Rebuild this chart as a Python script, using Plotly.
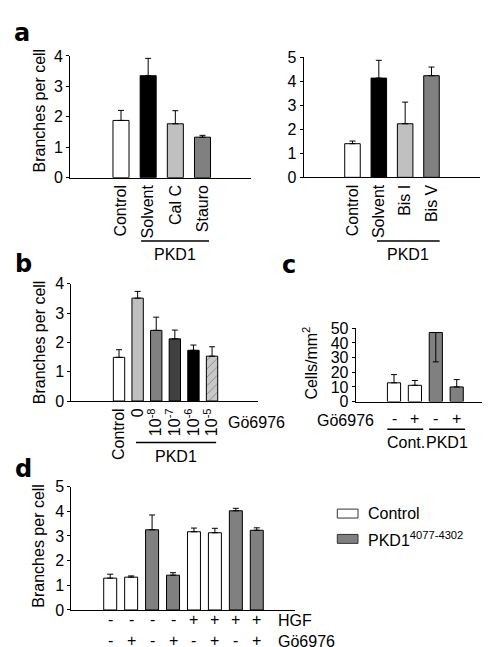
import plotly.graph_objects as go

W, H = 490, 647
FONT = "Liberation Sans, Arial, sans-serif"

# ---------------- data ----------------
a_left_labels = ["Control", "Solvent", "Cal C", "Stauro"]
a_left_values = [1.88, 3.35, 1.77, 1.33]
a_left_err = [0.33, 0.57, 0.43, 0.06]
a_left_colors = ["#ffffff", "#000000", "#c0c0c0", "#808080"]

a_right_labels = ["Control", "Solvent", "Bis I", "Bis V"]
a_right_values = [1.40, 4.13, 2.23, 4.23]
a_right_err = [0.11, 0.74, 0.90, 0.36]
a_right_colors = ["#ffffff", "#000000", "#c0c0c0", "#808080"]

b_labels = ["Control", "0", "10<sup>-8</sup>", "10<sup>-7</sup>", "10<sup>-6</sup>", "10<sup>-5</sup>"]
b_values = [1.49, 3.51, 2.41, 2.12, 1.73, 1.53]
b_err = [0.26, 0.23, 0.45, 0.30, 0.18, 0.32]
b_colors = ["#ffffff", "#c0c0c0", "#808080", "#404040", "#000000", "#c8c8c8"]
b_patterns = ["", "", "", "", "", "/"]

c_signs = ["-", "+", "-", "+"]
c_groups = ["Cont.", "PKD1"]
c_values = [12.8, 11.1, 47.1, 10.0]
c_err_up = [5.6, 3.3, 0.0, 5.0]
c_err_down = [0.0, 0.0, 20.0, 0.0]
c_colors = ["#ffffff", "#ffffff", "#808080", "#808080"]

d_values = [1.29, 1.33, 3.25, 1.41, 3.17, 3.13, 4.02, 3.23]
d_err = [0.16, 0.05, 0.60, 0.10, 0.15, 0.18, 0.10, 0.10]
d_group = ["Control", "Control", "PKD1", "PKD1", "Control", "Control", "PKD1", "PKD1"]
d_hgf = ["-", "-", "-", "-", "+", "+", "+", "+"]
d_go = ["-", "+", "-", "+", "-", "+", "-", "+"]
d_legend = {"Control": "#ffffff", "PKD1": "#808080"}
d_legend_text = {"Control": "Control", "PKD1": "PKD1<sup>4077-4302</sup>"}


def fx(p):
    return p / W


def fy(p):
    return 1 - p / H


fig = go.Figure()


def err(plus, minus=None):
    return dict(type="data", symmetric=False, array=plus,
                arrayminus=minus if minus is not None else [0] * len(plus),
                color="black", thickness=1, width=3)


line = dict(color="black", width=1)

fig.add_trace(go.Bar(x=list(range(len(a_left_values))), y=a_left_values, width=0.59,
                     marker=dict(color=a_left_colors, line=line),
                     error_y=err(a_left_err), xaxis="x", yaxis="y"))
fig.add_trace(go.Bar(x=list(range(len(a_right_values))), y=a_right_values, width=0.59,
                     marker=dict(color=a_right_colors, line=line),
                     error_y=err(a_right_err), xaxis="x2", yaxis="y2"))
fig.add_trace(go.Bar(x=list(range(len(b_values))), y=b_values, width=0.61,
                     marker=dict(color=b_colors, line=line,
                                 pattern=dict(shape=b_patterns, fgcolor="#404040",
                                              size=6, solidity=0.15)),
                     error_y=err(b_err), xaxis="x3", yaxis="y3"))
fig.add_trace(go.Bar(x=list(range(len(c_values))), y=c_values, width=0.63,
                     marker=dict(color=c_colors, line=line),
                     error_y=err(c_err_up, c_err_down), xaxis="x4", yaxis="y4"))
fig.add_trace(go.Bar(x=list(range(len(d_values))), y=d_values, width=0.62,
                     marker=dict(color=[d_legend[g] for g in d_group], line=line),
                     error_y=err(d_err), xaxis="x5", yaxis="y5"))

tickfont = dict(family=FONT, size=16, color="black")


def xax(dom, rng, anchor, labels=None):
    d = dict(domain=[fx(dom[0]), fx(dom[1])], range=rng, anchor=anchor,
             showline=True, linecolor="black", linewidth=1, showgrid=False,
             zeroline=False, ticks="", fixedrange=True)
    if labels is None:
        d.update(showticklabels=False)
    else:
        d.update(tickmode="array", tickvals=list(range(len(labels))), ticktext=labels,
                 tickangle=-90, tickfont=tickfont)
    return d


def yax(dom, rng, dtick, anchor):
    return dict(domain=[fy(dom[0]), fy(dom[1])], range=rng, anchor=anchor,
                showline=True, linecolor="black", linewidth=1, showgrid=False,
                zeroline=False, ticks="outside", ticklen=3, tickwidth=1,
                tickcolor="black", dtick=dtick, tick0=0, tickfont=tickfont,
                fixedrange=True)


fig.update_layout(
    width=W, height=H, margin=dict(l=0, r=0, t=0, b=0),
    paper_bgcolor="white", plot_bgcolor="rgba(0,0,0,0)",
    showlegend=False, barmode="overlay",
    font=dict(family=FONT, size=16, color="black"),
    xaxis=xax((62, 243), [-1.877, 4.785], "y", a_left_labels),
    yaxis=yax((166, 41), [0, 4], 1, "x"),
    xaxis2=xax((295.7, 471.7), [-1.853, 4.831], "y2", a_right_labels),
    yaxis2=yax((165.7, 42.3), [0, 5], 1, "x2"),
    xaxis3=xax((63.3, 250), [-2.565, 7.47], "y3", b_labels),
    yaxis3=yax((395.4, 275), [0, 4], 1, "x3"),
    xaxis4=xax((347.7, 486.7), [-1.833, 4.818], "y4"),
    yaxis4=yax((396, 320.7), [0, 50], 10, "x4"),
    xaxis5=xax((63.3, 286.7), [-1.858, 8.811], "y5"),
    yaxis5=yax((610, 483.3), [0, 5], 1, "x5"),
)

ann = []
shapes = []


def text(x, y, s, xref="paper", xanchor="center", size=16, angle=0, bold=False, family=FONT):
    ann.append(dict(x=x if xref != "paper" else fx(x), y=fy(y), xref=xref, yref="paper",
                    text=("<b>%s</b>" % s) if bold else s, showarrow=False,
                    xanchor=xanchor, yanchor="middle", textangle=angle,
                    font=dict(family=family, size=size, color="black")))


def hline(x0, x1, y, xref):
    shapes.append(dict(type="line", xref=xref, yref="paper", x0=x0, x1=x1,
                       y0=fy(y), y1=fy(y), line=dict(color="black", width=1.5)))


# panel letters
for letter, lx, ly in [("a", 14, 17), ("b", 15, 255), ("c", 281, 256), ("d", 15, 465)]:
    text(lx, ly, letter, size=24, bold=True, family="DejaVu Sans, sans-serif")

# y titles
text(31, 97, "Branches per cell", angle=-90)
text(31, 335, "Branches per cell", angle=-90)
text(31, 544, "Branches per cell", angle=-90)
text(302, 357, "Cells/mm<sup>2</sup>", angle=-90)

# panel a group lines
hline(0.74, 3.24, 231, "x")
text(2.0, 245, "PKD1", xref="x")
hline(0.93, 3.31, 231, "x2")
text(2.12, 245, "PKD1", xref="x2")

# panel b
text(218, 417, "Gö6976", xanchor="left")
hline(0.91, 5.22, 438, "x3")
text(3.06, 452, "PKD1", xref="x3")

# panel c
text(306.7, 415, "Gö6976", xanchor="left")
for i, s in enumerate(c_signs):
    text(i, 413, s, xref="x4")
for g, name in enumerate(c_groups):
    hline(2 * g - 0.32, 2 * g + 1.4, 424.3, "x4")
    text(2 * g + 0.55, 438, name, xref="x4")

# panel d
for i, s in enumerate(d_hgf):
    text(i, 620, s, xref="x5")
for i, s in enumerate(d_go):
    text(i, 641, s, xref="x5")
text(268, 621, "HGF", xanchor="left")
text(268, 642, "Gö6976", xanchor="left")

# legend of panel d
for k, (key, col) in enumerate(d_legend.items()):
    yc = 511 + 26 * k
    shapes.append(dict(type="rect", xref="paper", yref="paper",
                       x0=fx(329.3), x1=fx(350), y0=fy(yc - 4.6), y1=fy(yc + 4.6),
                       fillcolor=col, line=dict(color="#333333", width=1)))
    text(358.3, yc, d_legend_text[key], xanchor="left")

fig.update_layout(annotations=ann, shapes=shapes)
fig.write_html("out.html")
